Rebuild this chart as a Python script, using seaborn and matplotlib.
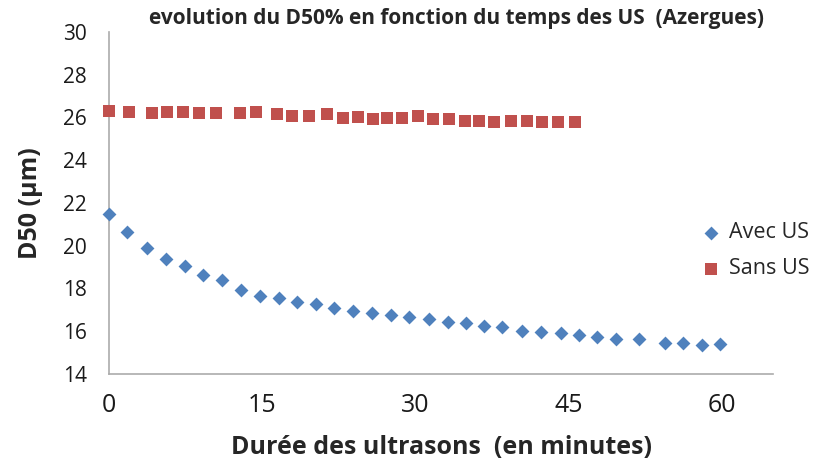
import matplotlib
matplotlib.use("Agg")
import matplotlib.pyplot as plt
import seaborn as sns
import pandas as pd


# ==========================
# DATA
# ==========================

avec_temps = [0, 1.8, 3.7, 5.6, 7.4, 9.25, 11.1, 12.95, 14.8, 16.6, 18.45, 20.3,
              22.0, 23.9, 25.7, 27.6, 29.4, 31.3, 33.2, 34.95, 36.7, 38.5, 40.4,
              42.3, 44.2, 46.0, 47.8, 49.6, 51.9, 54.4, 56.2, 58.0, 59.8]
avec_d50 = [21.49, 20.66, 19.88, 19.37, 19.05, 18.63, 18.40, 17.93, 17.66, 17.54,
            17.38, 17.26, 17.10, 16.95, 16.87, 16.76, 16.64, 16.56, 16.45, 16.37,
            16.26, 16.21, 16.01, 15.98, 15.93, 15.82, 15.74, 15.64, 15.62, 15.46,
            15.46, 15.36, 15.40]

sans_temps = [0, 2.0, 4.25, 5.7, 7.2, 8.85, 10.5, 12.8, 14.4, 16.4, 17.9, 19.6,
              21.3, 22.9, 24.4, 25.8, 27.2, 28.7, 30.2, 31.7, 33.3, 34.8, 36.2,
              37.7, 39.3, 40.9, 42.4, 43.9, 45.6]
sans_d50 = [26.32, 26.24, 26.22, 26.24, 26.24, 26.21, 26.20, 26.20, 26.24, 26.15,
            26.04, 26.08, 26.18, 25.98, 26.01, 25.93, 25.96, 25.96, 26.04, 25.92,
            25.92, 25.85, 25.85, 25.80, 25.85, 25.84, 25.76, 25.80, 25.80]

x_ticks = [0, 15, 30, 45, 60]
y_ticks = [14, 16, 18, 20, 22, 24, 26, 28, 30]

df_avec = pd.DataFrame({"temps": avec_temps, "d50": avec_d50})
df_sans = pd.DataFrame({"temps": sans_temps, "d50": sans_d50})


# ==========================
# STYLE
# ==========================

sns.set_theme(style="white")
plt.rcParams["font.family"] = ["Open Sans", "DejaVu Sans"]

grey = "#ABABAB"


# ==========================
# PLOT
# ==========================

fig = plt.figure(figsize=(8.13, 4.68), dpi=100)
ax = fig.add_axes([0.134, 0.201, 0.817, 0.731])

sns.scatterplot(data=df_avec, x="temps", y="d50", ax=ax, marker="D", s=50,
                color="#4F81BD", linewidth=0, label="Avec US", clip_on=False,
                zorder=3)
sns.scatterplot(data=df_sans, x="temps", y="d50", ax=ax, marker="s", s=74,
                color="#C0504D", linewidth=0, label="Sans US", clip_on=False,
                zorder=3)

ax.set_xlim(0, 65)
ax.set_ylim(14, 30)
ax.set_xticks(x_ticks)
ax.set_yticks(y_ticks)

for side in ["top", "right"]:
    ax.spines[side].set_visible(False)
for side in ["left", "bottom"]:
    ax.spines[side].set_color(grey)
    ax.spines[side].set_linewidth(1.2)

ax.tick_params(axis="both", direction="out", color=grey, width=1.2,
               labelcolor="#1a1a1a")
ax.tick_params(axis="x", length=5, pad=9, labelsize=18)
ax.tick_params(axis="y", length=5, pad=11, labelsize=15)

ax.set_xlabel("Durée des ultrasons  (en minutes)", fontsize=18,
              fontweight="bold", labelpad=12)
ax.set_ylabel("D50 (µm)", fontsize=18, fontweight="bold", labelpad=14)

fig.text(0.561, 0.961, "evolution du D50% en fonction du temps des US  (Azergues)",
         ha="center", va="center", fontsize=15, fontweight="bold")

ax.legend(loc="center left", bbox_to_anchor=(0.864, 0.464),
          bbox_transform=fig.transFigure, frameon=False, fontsize=15.5,
          handlelength=0.8, handletextpad=0.45, labelspacing=0.7,
          borderpad=0, borderaxespad=0)

fig.savefig("out.png", dpi=100)
plt.close()
